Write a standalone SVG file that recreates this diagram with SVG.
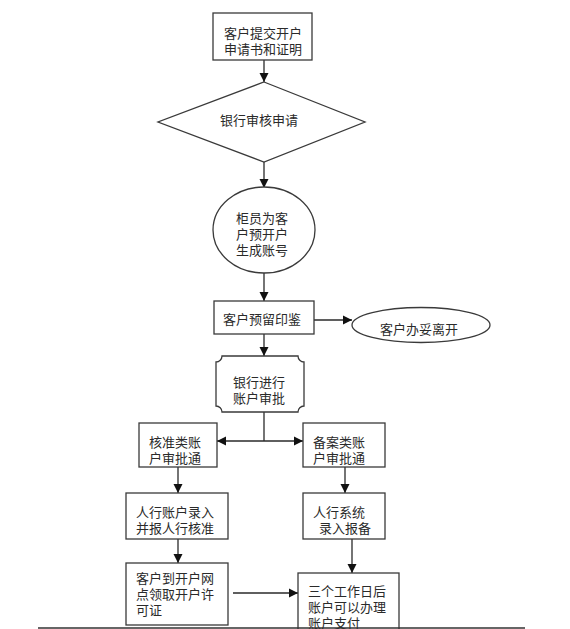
<svg xmlns="http://www.w3.org/2000/svg" width="570" height="629" viewBox="0 0 570 629">
<defs>
<style>
.s{fill:#fff;stroke:#3a3a3a;stroke-width:1.3}
.c{fill:none;stroke:#2a2a2a;stroke-width:1.3}
text{font-family:"Noto Sans CJK SC","Noto Sans",sans-serif;font-size:13px;fill:#2a2a2a}
.m{text-anchor:middle}
</style>
<marker id="ah" viewBox="0 0 10 10" refX="10" refY="5" markerUnits="userSpaceOnUse" markerWidth="9" markerHeight="12" orient="auto-start-reverse">
<path d="M0,0 L10,5 L0,10 z" fill="#111"/>
</marker>
</defs>
<rect width="570" height="629" fill="#fff"/>
<g id="connectors">
<line class="c" x1="264" y1="60" x2="264" y2="82" marker-end="url(#ah)"/>
<line class="c" x1="264" y1="162" x2="264" y2="188" marker-end="url(#ah)"/>
<line class="c" x1="264" y1="273" x2="264" y2="301" marker-end="url(#ah)"/>
<line class="c" x1="314" y1="320" x2="352" y2="320" marker-end="url(#ah)"/>
<line class="c" x1="264" y1="334" x2="264" y2="356" marker-end="url(#ah)"/>
<line class="c" x1="264" y1="412" x2="264" y2="441"/>
<line class="c" x1="217" y1="441" x2="303" y2="441" marker-start="url(#ah)" marker-end="url(#ah)"/>
<line class="c" x1="178" y1="467" x2="178" y2="493" marker-end="url(#ah)"/>
<line class="c" x1="178" y1="539" x2="178" y2="563" marker-end="url(#ah)"/>
<line class="c" x1="345" y1="467" x2="345" y2="493" marker-end="url(#ah)"/>
<line class="c" x1="352" y1="539" x2="352" y2="573" marker-end="url(#ah)"/>
<line class="c" x1="233" y1="593" x2="298" y2="593" marker-end="url(#ah)"/>
</g>
<g id="n1">
<rect class="s" x="213" y="13" width="99" height="47"/>
<text class="m" x="263" y="38">客户提交开户</text>
<text class="m" x="263" y="54">申请书和证明</text>
</g>
<g id="n2">
<polygon class="s" points="264,82 365,122 264,162 158,122"/>
<text class="m" x="259" y="125">银行审核申请</text>
</g>
<g id="n3">
<ellipse class="s" cx="264" cy="230" rx="51" ry="43"/>
<text class="m" x="262" y="223">柜员为客</text>
<text class="m" x="262" y="239">户预开户</text>
<text class="m" x="262" y="255">生成账号</text>
</g>
<g id="n4">
<rect class="s" x="214" y="301" width="100" height="33"/>
<text class="m" x="262" y="324">客户预留印鉴</text>
</g>
<g id="n5">
<ellipse class="s" cx="421" cy="325" rx="69" ry="17.5"/>
<text class="m" x="419" y="334">客户办妥离开</text>
</g>
<g id="n6">
<path class="s" d="M222,356 H298 A6,6 0 0 0 304,362 V406 A6,6 0 0 0 298,412 H222 A6,6 0 0 0 216,406 V362 A6,6 0 0 0 222,356 Z"/>
<text class="m" x="259" y="387">银行进行</text>
<text class="m" x="259" y="403">账户审批</text>
</g>
<g id="n7">
<rect class="s" x="139" y="423" width="78" height="44"/>
<text x="149" y="447">核准类账</text>
<text x="149" y="463">户审批通</text>
</g>
<g id="n8">
<rect class="s" x="303" y="423" width="82" height="44"/>
<text x="313" y="447">备案类账</text>
<text x="313" y="463">户审批通</text>
</g>
<g id="n9">
<rect class="s" x="126" y="493" width="102" height="46"/>
<text x="136" y="517">人行账户录入</text>
<text x="136" y="533">并报人行核准</text>
</g>
<g id="n10">
<rect class="s" x="303" y="493" width="82" height="46"/>
<text x="313" y="517">人行系统</text>
<text x="319" y="533">录入报备</text>
</g>
<g id="n11">
<rect class="s" x="126" y="563" width="102" height="62"/>
<text x="136" y="583">客户到开户网</text>
<text x="136" y="599">点领取开户许</text>
<text x="136" y="615">可证</text>
</g>
<g id="n12">
<rect class="s" x="298" y="573" width="101" height="60"/>
<text x="308" y="596">三个工作日后</text>
<text x="308" y="612">账户可以办理</text>
<text x="308" y="628">账户支付</text>
</g>
<line x1="38" y1="628" x2="525" y2="628" stroke="#333" stroke-width="1.5"/>
</svg>
